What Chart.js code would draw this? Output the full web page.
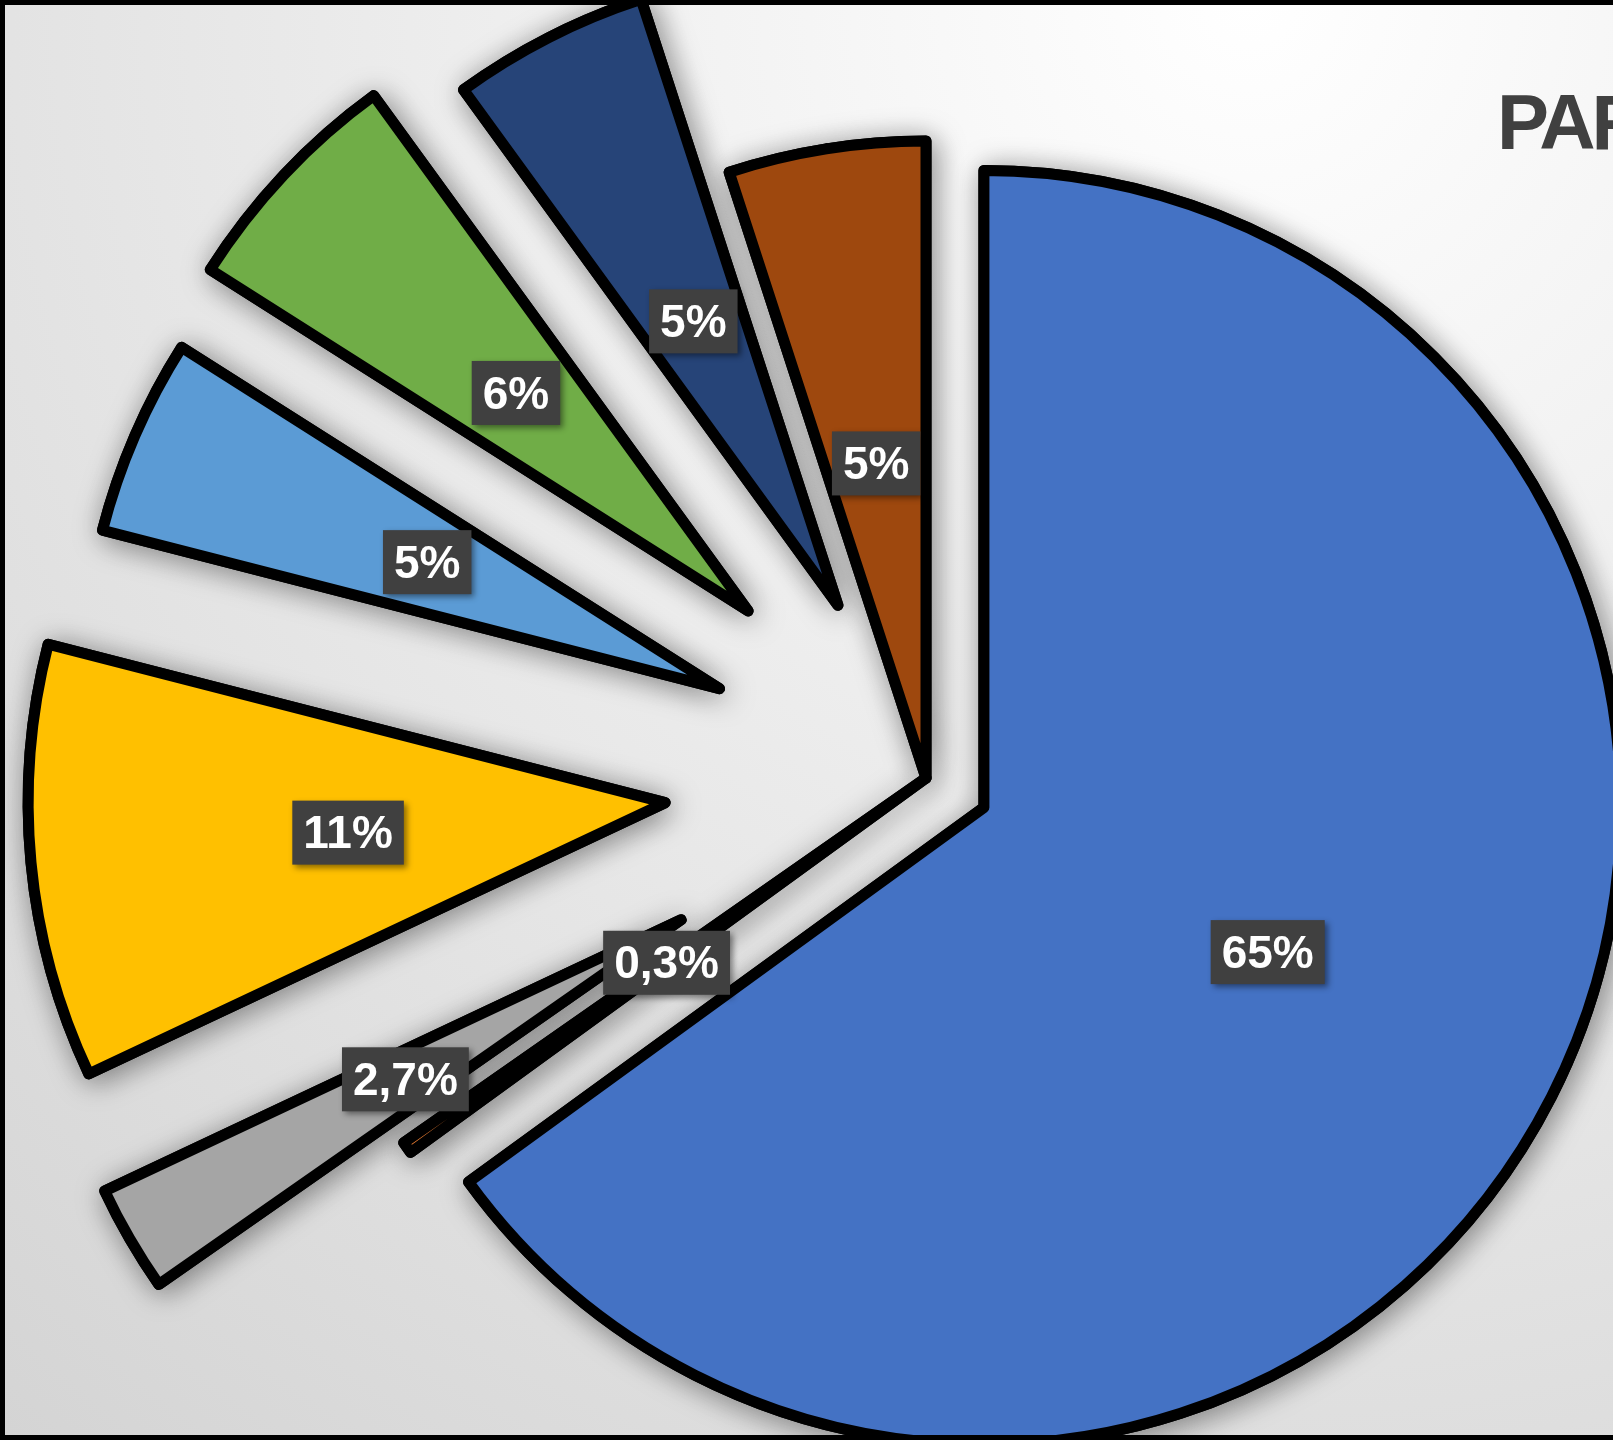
<!DOCTYPE html>
<html>
<head>
<meta charset="utf-8">
<script src="https://cdn.jsdelivr.net/npm/chart.js@4.4.1/dist/chart.umd.min.js"></script>
<style>
    html, body { margin: 0; padding: 0; width: 1613px; height: 1440px; overflow: hidden; }
    body {
        position: relative;
        background: radial-gradient(circle 1900px at 1250px 0px, #ffffff 0%, #d4d4d4 100%);
        font-family: "Liberation Sans", Arial, sans-serif;
    }
    #chartCanvas { position: absolute; left: 0; top: 0; }
    #chartTitle {
        position: absolute; left: 1497px; top: 83px;
        font: bold 78px/1 "Liberation Sans", Arial, sans-serif;
        letter-spacing: -4px;
        color: #404040; white-space: nowrap;
    }
    #frame {
        position: absolute; left: 0; top: 0; right: 0; bottom: 0;
        border: 5px solid #000; border-right: none; pointer-events: none;
    }
</style>
</head>
<body>
<canvas id="chartCanvas" width="1613" height="1440"></canvas>
<div id="chartTitle">PARTICIPACIÓN</div>
<div id="frame"></div>
<script>
// Data
const categories = ['Categoría 1', 'Categoría 2', 'Categoría 3', 'Categoría 4', 'Categoría 5', 'Categoría 6', 'Categoría 7', 'Categoría 8'];
const shares = [65, 0.3, 2.7, 11, 5, 6, 5, 5];

// Styling
const sliceColors = ['#4472C4', '#ED7D31', '#A5A5A5', '#FFC000', '#5B9BD5', '#70AD47', '#264478', '#9E480E'];
const explode = [65, 0, 283, 262, 225, 244, 194, 0]; // px each slice is pulled out

const pctText = shares.map(v => (Number.isInteger(v) ? String(v) : v.toFixed(1).replace('.', ',')) + '%');

// Draw slices ourselves so each one can be pulled out by a plain distance
const explodePlugin = {
    id: 'explodeSlices',
    beforeDatasetsDraw(chart) {
        const ctx = chart.ctx;
        const arcs = chart.getDatasetMeta(0).data;
        const drawAll = () => arcs.forEach((arc, i) => {
            const mid = (arc.startAngle + arc.endAngle) / 2;
            ctx.save();
            ctx.translate(Math.cos(mid) * explode[i], Math.sin(mid) * explode[i]);
            arc.draw(ctx);
            ctx.restore();
        });
        // shadow pass, then clean pass on top
        ctx.save();
        ctx.shadowColor = 'rgba(0, 0, 0, 0.4)';
        ctx.shadowBlur = 30;
        ctx.shadowOffsetX = 4;
        ctx.shadowOffsetY = 4;
        drawAll();
        ctx.restore();
        drawAll();
        return false;
    },
    afterDraw(chart) {
        const ctx = chart.ctx;
        const arcs = chart.getDatasetMeta(0).data;
        ctx.save();
        ctx.font = 'bold 46px "Liberation Sans", Arial, sans-serif';
        ctx.textAlign = 'center';
        ctx.textBaseline = 'middle';
        arcs.forEach((arc, i) => {
            const mid = (arc.startAngle + arc.endAngle) / 2;
            const d = explode[i] + arc.outerRadius * 0.5;
            const x = arc.x + Math.cos(mid) * d;
            const y = arc.y + Math.sin(mid) * d;
            const w = ctx.measureText(pctText[i]).width + 22;
            const h = 64;
            ctx.shadowColor = 'rgba(0, 0, 0, 0.45)';
            ctx.shadowBlur = 6;
            ctx.shadowOffsetX = 3;
            ctx.shadowOffsetY = 3;
            ctx.fillStyle = '#404040';
            ctx.fillRect(x - w / 2, y - h / 2, w, h);
            ctx.shadowColor = 'transparent';
            ctx.fillStyle = '#ffffff';
            ctx.fillText(pctText[i], x, y + 3);
        });
        ctx.restore();
    }
};

new Chart(document.getElementById('chartCanvas').getContext('2d'), {
    type: 'pie',
    data: {
        labels: categories,
        datasets: [{
            data: shares,
            backgroundColor: sliceColors,
            borderColor: '#000000',
            borderWidth: 11,
            borderJoinStyle: 'round'
        }]
    },
    options: {
        responsive: false,
        animation: false,
        radius: 637,
        layout: { padding: { left: 239, right: 0, top: 116, bottom: 0 } },
        plugins: {
            legend: { display: false },
            title: { display: false },
            tooltip: { enabled: false }
        }
    },
    plugins: [explodePlugin]
});
</script>
</body>
</html>
